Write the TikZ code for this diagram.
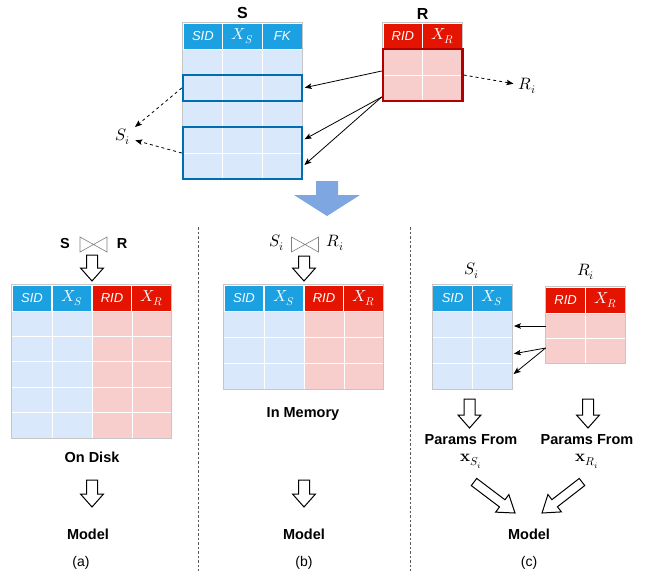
\documentclass[tikz,border=0pt]{standalone}
\usepackage{fontspec}
\usepackage{unicode-math}
\setmainfont{Liberation Sans}
\setmathfont{Latin Modern Math}
\usetikzlibrary{arrows.meta}

\definecolor{sdark}{HTML}{1BA1E2}
\definecolor{slight}{HTML}{DAE8FC}
\definecolor{rdark}{HTML}{E51400}
\definecolor{rlight}{HTML}{F8CECC}
\definecolor{sline}{HTML}{006EAF}
\definecolor{rline}{HTML}{B20000}
\definecolor{bigblue}{HTML}{7EA6E0}

\tikzset{
  shead/.style={fill=sdark, draw=white, line width=0.8pt, text=white, minimum width=39.7pt,
    minimum height=26pt, inner sep=0pt, font=\fontsize{13}{15}\selectfont\itshape},
  rhead/.style={shead, fill=rdark},
  smhead/.style={shead, font=\fontsize{16}{18}\selectfont},
  rmhead/.style={rhead, font=\fontsize{16}{18}\selectfont},
  sbody/.style={fill=slight, draw=none, inner sep=0pt},
  rbody/.style={sbody, fill=rlight},
  gridline/.style={white, line width=0.8pt},
  tabframe/.style={gray!45, line width=0.6pt},
  sgroup/.style={draw=sline, line width=2.5pt, inner sep=0pt, minimum width=119pt},
  rgroup/.style={draw=rline, line width=2.5pt, inner sep=0pt, minimum width=79.4pt},
  lbl/.style={font=\fontsize{14.5}{16}\selectfont\bfseries},
  txt/.style={font=\fontsize{14}{16}\selectfont},
  mtxt/.style={font=\fontsize{16.5}{18}\selectfont},
  arr/.style={-{Stealth[length=7pt,width=5.5pt,inset=1.5pt]}, line width=0.8pt, shorten >=1.5pt},
  darr/.style={arr, dash pattern=on 3pt off 3pt},
  divider/.style={gray!70!black, line width=0.8pt, dash pattern=on 2.5pt off 2pt},
  pics/harrow/.style={code={
    \draw[line width=1pt, fill=white, line join=miter] (-5.5,0) -- (5.5,0) -- (5.5,#1-13) -- (11.5,#1-13)
      -- (0,#1) -- (-11.5,#1-13) -- (-5.5,#1-13) -- cycle;}},
  pics/slantarrow/.style={code={
    \draw[line width=1pt, fill=white, line join=miter] (-4.5,0) -- (4.5,0) -- (4.5,#1-16) -- (11,#1-16)
      -- (0,#1) -- (-11,#1-16) -- (-4.5,#1-16) -- cycle;}},
  pics/bowtie/.style={code={
    \draw[gray, line width=0.6pt] (-13.5,-7.5) -- (13.5,7.5) -- (13.5,-7.5) -- (-13.5,7.5) -- cycle;}}
}

\begin{document}
\begin{tikzpicture}[x=1pt, y=-1pt]
    \useasboundingbox (0,0) rectangle (648,573);

    % top: S and R
    \node[lbl, font=\fontsize{16}{18}\selectfont\bfseries] (stitle) at (242.5,13) {S};
    \node[sbody, minimum width=119pt, minimum height=130pt] (stab) at (242.5,114) {};
    \foreach \y in {75,101,127,153} \draw[gridline] (183,\y) -- (302,\y);
    \foreach \x in {222.7,262.3} \draw[gridline] (\x,49) -- (\x,179);
    \node[shead] (ssid) at (202.85,36) {SID};
    \node[smhead] (sxs) at (242.5,36) {$X_S$};
    \node[shead] (sfk) at (282.15,36) {FK};
    \draw[tabframe] (ssid.north west) rectangle (stab.south east);
    \node[sgroup, minimum height=26pt] (sgrp1) at (242.5,88) {};
    \node[sgroup, minimum height=52pt] (sgrp2) at (242.5,153) {};

    \node[lbl, font=\fontsize{16}{18}\selectfont\bfseries] (rtitle) at (422.7,14) {R};
    \node[rbody, minimum width=79.4pt, minimum height=52pt] (rtab) at (422.7,75) {};
    \draw[gridline] (383,75) -- (462.4,75);
    \draw[gridline] (422.7,49) -- (422.7,101);
    \node[rhead] (rrid) at (402.85,36) {RID};
    \node[rmhead] (rxr) at (442.55,36) {$X_R$};
    \draw[tabframe] (rrid.north west) rectangle (rtab.south east);
    \node[rgroup, minimum height=52pt] (rgrp) at (422.7,75) {};

    \node[mtxt] (sitop) at (123,137) {$S_i$};
    \node[mtxt] (ritop) at (527,86) {$R_i$};

    \draw[arr] ([yshift=4pt]rgrp.west) -- (sgrp1.east);
    \draw[arr] ([yshift=-22pt]rgrp.west) -- ([yshift=13pt]sgrp2.east);
    \draw[arr] ([yshift=-22pt]rgrp.west) -- ([yshift=-13pt]sgrp2.east);
    \draw[darr] (sgrp1.west) -- (sitop);
    \draw[darr] (sgrp2.west) -- (sitop);
    \draw[darr] (rgrp.east) -- (ritop);

    \fill[bigblue] (316,181) -- (338,181) -- (338,195) -- (360,195) -- (327,216)
      -- (294,195) -- (316,195) -- cycle;

    \draw[divider] (198,227) -- (198,571);
    \draw[divider] (410,227) -- (410,571);

    % (a)
    \node[lbl] (ajs) at (65,244) {S};
    \pic at (93.5,244.5) {bowtie};
    \node[lbl] (ajr) at (122,244) {R};
    \pic at (92,255) {harrow=26};
    \node[sbody, minimum width=80pt, minimum height=127pt] (asb) at (52,374.5) {};
    \node[rbody, minimum width=79pt, minimum height=127pt] (arb) at (131.5,374.5) {};
    \foreach \y in {336.4,361.8,387.2,412.6} \draw[gridline] (12,\y) -- (171,\y);
    \foreach \x in {52,92,132} \draw[gridline] (\x,311) -- (\x,438);
    \node[shead] (asid) at (32,298) {SID};
    \node[smhead] (axs) at (72,298) {$X_S$};
    \node[rhead] (arid) at (112,298) {RID};
    \node[rmhead] (axr) at (151.5,298) {$X_R$};
    \draw[tabframe] (asid.north west) rectangle (arb.south east);
    \node[lbl] (disk) at (92,457) {On Disk};
    \pic at (92,480) {harrow=27};
    \node[lbl] (amodel) at (88,534) {Model};
    \node[txt] (acap) at (81,563) {(a)};

    % (b)
    \node[mtxt] (bjs) at (277,243) {$S_i$};
    \pic at (305,244.5) {bowtie};
    \node[mtxt] (bjr) at (335,243) {$R_i$};
    \pic at (304,256) {harrow=25};
    \node[sbody, minimum width=80pt, minimum height=78pt] (bsb) at (264,350) {};
    \node[rbody, minimum width=79pt, minimum height=78pt] (brb) at (343.5,350) {};
    \foreach \y in {337,363} \draw[gridline] (224,\y) -- (383,\y);
    \foreach \x in {264,304,344} \draw[gridline] (\x,311) -- (\x,389);
    \node[shead] (bsid) at (244,298) {SID};
    \node[smhead] (bxs) at (284,298) {$X_S$};
    \node[rhead] (brid) at (324,298) {RID};
    \node[rmhead] (bxr) at (363.5,298) {$X_R$};
    \draw[tabframe] (bsid.north west) rectangle (brb.south east);
    \node[lbl] (memory) at (303,414) {In Memory};
    \pic at (304,480) {harrow=27};
    \node[lbl] (bmodel) at (304,534) {Model};
    \node[txt] (bcap) at (304,563) {(b)};

    % (c)
    \node[mtxt] (csi) at (472,271) {$S_i$};
    \node[mtxt] (cri) at (585.5,272) {$R_i$};
    \node[sbody, minimum width=79.4pt, minimum height=78pt] (csb) at (472.5,350) {};
    \foreach \y in {337,363} \draw[gridline] (432.8,\y) -- (512.2,\y);
    \draw[gridline] (472.5,311) -- (472.5,389);
    \node[shead] (csid) at (452.65,298) {SID};
    \node[smhead] (cxs) at (492.35,298) {$X_S$};
    \draw[tabframe] (csid.north west) rectangle (csb.south east);
    \node[rbody, minimum width=79.4pt, minimum height=50pt] (crb) at (585.5,338) {};
    \draw[gridline] (545.8,338) -- (625.2,338);
    \draw[gridline] (585.5,313) -- (585.5,363);
    \node[rhead] (crid) at (565.65,300) {RID};
    \node[rmhead] (cxr) at (605.35,300) {$X_R$};
    \draw[tabframe] (crid.north west) rectangle (crb.south east);

    \draw[arr] ([yshift=12pt]crb.west) -- ([yshift=24pt]csb.east);
    \draw[arr] ([yshift=-10pt]crb.west) -- ([yshift=-4pt]csb.east);
    \draw[arr] ([yshift=-10pt]crb.west) -- ([yshift=-25pt]csb.east);

    \pic at (469.5,399) {harrow=29};
    \pic at (588,399) {harrow=29};
    \node[lbl] (cps) at (471,440) {Params From};
    \node[lbl] (cpr) at (587,440) {Params From};
    \node[mtxt] (cxsi) at (471,461) {$\symbf{x}_{S_i}$};
    \node[mtxt] (cxri) at (587,461) {$\symbf{x}_{R_i}$};
    \pic[rotate=52.9] at (474,482) {slantarrow=51.4};
    \pic[rotate=-52.2] at (582,482) {slantarrow=50.6};
    \node[lbl] (cmodel) at (529,534) {Model};
    \node[txt] (ccap) at (529,563) {(c)};
\end{tikzpicture}
\end{document}
